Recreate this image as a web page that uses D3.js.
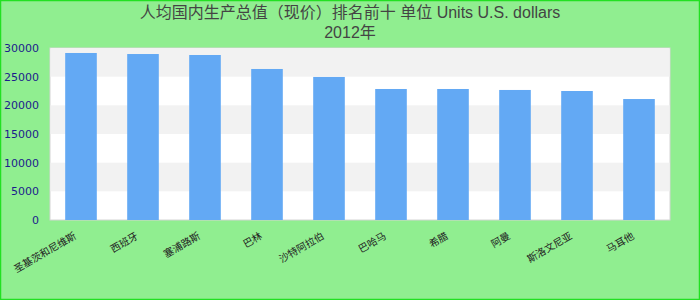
<!DOCTYPE html>
<html>
<head>
<meta charset="utf-8">
<script src="https://cdn.jsdelivr.net/npm/d3@7"></script>
<style>
  html, body { margin: 0; padding: 0; background: #90ee90; }
  svg { display: block; }
</style>
</head>
<body>
<svg id="chart" width="700" height="300"></svg>
<script>
const categories = ["圣基茨和尼维斯", "西班牙", "塞浦路斯", "巴林", "沙特阿拉伯", "巴哈马", "希腊", "阿曼", "斯洛文尼亚", "马耳他"];
const values = [29130, 28950, 28780, 26340, 24950, 22850, 22850, 22680, 22500, 21100];
const yTicks = [0, 5000, 10000, 15000, 20000, 25000, 30000];
const titleLine1 = "人均国内生产总值（现价）排名前十 单位 Units U.S. dollars";
const titleLine2 = "2012年";

const W = 700, H = 300;
const m = { left: 50, right: 30, top: 48, bottom: 80 };
const svg = d3.select("#chart");

svg.append("rect").attr("x", 0.5).attr("y", 0.5).attr("width", W - 1).attr("height", H - 1)
  .attr("fill", "#90ee90").attr("stroke", "#22e022").attr("stroke-width", 1.5);

const x = d3.scaleBand().domain(categories).range([m.left, W - m.right]).paddingInner(0.49).paddingOuter(0.245);
const y = d3.scaleLinear().domain([0, 30000]).range([H - m.bottom, m.top]);

// plot background
svg.append("rect").attr("x", m.left).attr("y", m.top)
  .attr("width", W - m.right - m.left).attr("height", H - m.bottom - m.top)
  .attr("fill", "#ffffff").attr("stroke", "#d4d4d4").attr("stroke-width", 1);

// alternating bands
const bands = d3.pairs(yTicks).filter((d, i) => i % 2 === 1);
svg.append("g").selectAll("rect").data(bands).join("rect")
  .attr("x", m.left + 0.5).attr("width", W - m.right - m.left - 1)
  .attr("y", d => y(d[1])).attr("height", d => y(d[0]) - y(d[1]))
  .attr("fill", "#f2f2f2");

// bars
svg.append("g").selectAll("rect").data(values).join("rect")
  .attr("x", (d, i) => x(categories[i]))
  .attr("width", x.bandwidth())
  .attr("y", d => y(d))
  .attr("height", d => y(0) - y(d))
  .attr("fill", "#63a9f4");

// y axis
const yAxis = svg.append("g").attr("transform", `translate(${m.left - 8},0)`)
  .call(d3.axisLeft(y).tickValues(yTicks).tickSize(0).tickPadding(3).tickFormat(d3.format("d")));
yAxis.select(".domain").remove();
yAxis.selectAll("text").attr("fill", "#1c1c8c")
  .style("font-family", "'DejaVu Sans', sans-serif").style("font-size", "11px");

// x axis
const xAxis = svg.append("g").attr("transform", `translate(0,${H - m.bottom})`)
  .call(d3.axisBottom(x).tickSize(0).tickPadding(0));
xAxis.select(".domain").remove();
xAxis.selectAll("text")
  .attr("fill", "#222")
  .style("font-family", "'Noto Sans CJK SC', sans-serif").style("font-size", "10px")
  .attr("text-anchor", "end")
  .attr("dy", null).attr("y", 0)
  .attr("transform", "translate(-4,18) rotate(-30)");

// title
const t = svg.append("text").attr("x", W / 2).attr("text-anchor", "middle")
  .attr("fill", "#444").style("font-family", "'Liberation Sans', 'Noto Sans CJK SC', sans-serif")
  .style("font-size", "16px");
t.append("tspan").attr("x", W / 2).attr("y", 18).text(titleLine1);
t.append("tspan").attr("x", W / 2).attr("y", 38).text(titleLine2);
</script>
</body>
</html>
